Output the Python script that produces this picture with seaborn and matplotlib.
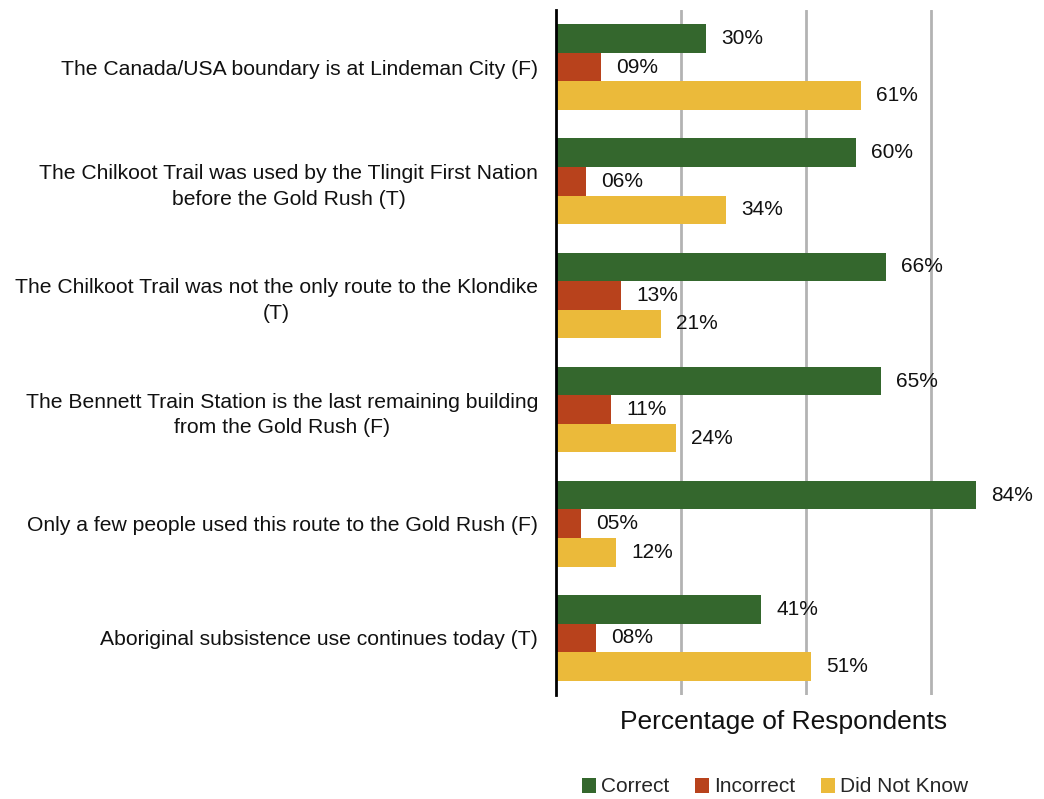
import matplotlib
matplotlib.use("Agg")
import matplotlib.pyplot as plt
import seaborn as sns
import pandas as pd
from matplotlib.patches import Patch

statements = [
    "The Canada/USA boundary is at Lindeman City (F)",
    "The Chilkoot Trail was used by the Tlingit First Nation\nbefore the Gold Rush (T)",
    "The Chilkoot Trail was not the only route to the Klondike\n(T)",
    "The Bennett Train Station is the last remaining building\nfrom the Gold Rush (F)",
    "Only a few people used this route to the Gold Rush (F)",
    "Aboriginal subsistence use continues today (T)",
]
responses = ["Correct", "Incorrect", "Did Not Know"]
correct = [30, 60, 66, 65, 84, 41]
incorrect = [9, 6, 13, 11, 5, 8]
did_not_know = [61, 34, 21, 24, 12, 51]

colors = ["#34672d", "#b8421c", "#ebba3a"]

rows = []
for series, vals in zip(responses, [correct, incorrect, did_not_know]):
    for s, v in zip(statements, vals):
        rows.append({"Statement": s, "Response": series, "Value": v / 100})
df = pd.DataFrame(rows)

sns.set_theme(style="white")
plt.rcParams["font.family"] = ["Liberation Sans", "DejaVu Sans"]

fig = plt.figure(figsize=(10.44, 7.99), dpi=100)
ax = fig.add_axes([556 / 1044, 1 - 695 / 799, 475 / 1044, 685 / 799])

sns.barplot(data=df, y="Statement", x="Value", hue="Response",
            hue_order=responses, order=statements, palette=colors,
            width=0.75, saturation=1, orient="h", ax=ax, legend=False,
            linewidth=0, edgecolor="none")

for container in ax.containers:
    labels = [f"{round(b.get_width() * 100):02d}%" for b in container]
    ax.bar_label(container, labels=labels, padding=11, fontsize=15, color="#111111")

ax.set_xlim(0, 0.95)
ax.set_ylim(5.5, -0.5)
ax.set_xticks([0.25, 0.5, 0.75])
ax.set_xticklabels([])
ax.tick_params(axis="x", length=0)
ax.tick_params(axis="y", length=0, pad=13, labelsize=15.2, labelcolor="#111111")
for t in ax.get_yticklabels():
    t.set_multialignment("center")
    t.set_linespacing(1.45)
ax.grid(axis="x", color="#b3b3b3", linewidth=2)
ax.set_axisbelow(True)
for side in ["top", "right", "bottom"]:
    ax.spines[side].set_visible(False)
ax.spines["left"].set_color("black")
ax.spines["left"].set_linewidth(2)
ax.spines["left"].set_zorder(5)
ax.set_ylabel("")
ax.set_xlabel("")
fig.text(784 / 1044, 1 - 722 / 799, "Percentage of Respondents",
         fontsize=19, color="#111111", ha="center", va="center")

handles = [Patch(facecolor=c, edgecolor="none") for c in colors]
fig.legend(handles, responses, loc="center", bbox_to_anchor=(775 / 1044, 1 - 787 / 799),
           ncol=3, frameon=False, fontsize=15, handlelength=0.7, handleheight=0.7,
           handletextpad=0.25, columnspacing=1.2)

fig.savefig("out.png", dpi=100, facecolor="white")
